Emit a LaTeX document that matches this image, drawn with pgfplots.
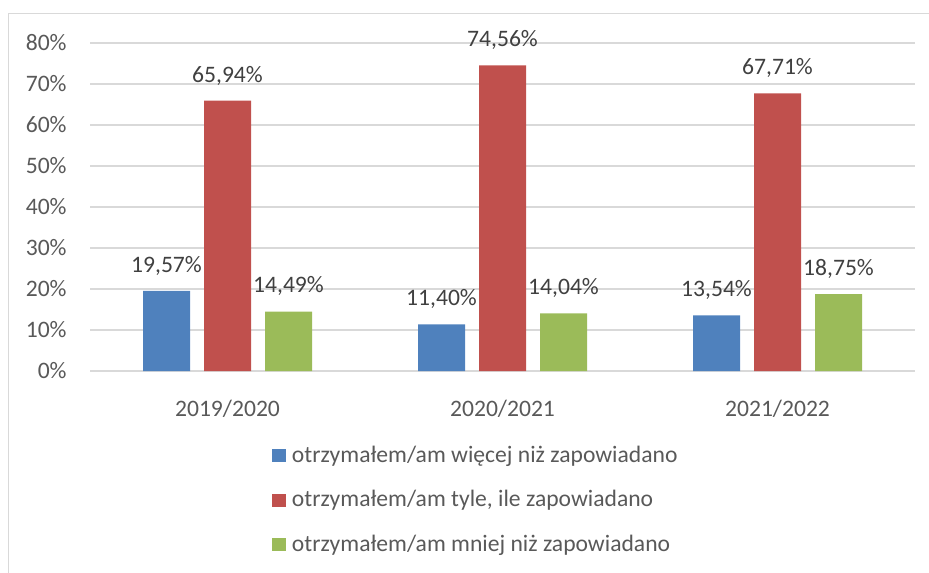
\documentclass[border=0pt]{standalone}
\usepackage{fontspec}
\setmainfont{Carlito}
\usepackage{pgfplots}
\pgfplotsset{compat=1.18}
\definecolor{xlblue}{HTML}{4F81BD}
\definecolor{xlred}{HTML}{C0504D}
\definecolor{xlgreen}{HTML}{9BBB59}
\definecolor{gridgray}{HTML}{D9D9D9}
\definecolor{labgray}{HTML}{595959}
\definecolor{valgray}{HTML}{404040}
\newcommand\cf{\fontsize{11.8pt}{14pt}\selectfont}

\begin{document}
\begin{tikzpicture}
% page = 929 x 572 px at 0.5pt per px
\useasboundingbox (0,0) rectangle (464.5pt,-286pt);
\draw[gridgray, line width=0.8pt] (4.25pt,-300pt) -- (4.25pt,-6.75pt) -- (480pt,-6.75pt);
\begin{axis}[
  at={(45pt,-185.5pt)}, anchor=south west,
  scale only axis, width=412.5pt, height=164pt,
  ybar=7pt, bar width=23.5pt,
  xmin=-0.5, xmax=2.5, ymin=0, ymax=80,
  clip=false,
  /pgf/number format/assume math mode=true,
  xtick={0,1,2}, xticklabels={2019/2020,2020/2021,2021/2022},
  ytick={0,10,...,80},
  yticklabels={0\%,10\%,20\%,30\%,40\%,50\%,60\%,70\%,80\%},
  axis x line*=bottom, axis y line*=left,
  x axis line style={gridgray, line width=0.9pt, -},
  y axis line style={draw=none},
  tick style={draw=none},
  ymajorgrids, grid style={gridgray, line width=0.9pt},
  every tick label/.append style={font=\cf, text=labgray},
  yticklabel style={anchor=east, inner sep=0pt, xshift=-11.5pt},
  xticklabel style={anchor=base, inner sep=0pt, yshift=-18.5pt},
  point meta=y,
  nodes near coords={\pgfmathprintnumber[fixed,fixed zerofill,precision=2,use comma]{\pgfplotspointmeta}\%},
  nodes near coords style={anchor=base, inner sep=0pt, yshift=9.3pt, font=\cf, text=valgray},
  legend image code/.code={\fill[#1] (0pt,0pt) rectangle (7pt,6.5pt); \path (10pt,0pt);},
  legend cell align=left,
  legend style={at={(axis description cs:0.2206,-0.2287)}, anchor=north west,
    draw=none, fill=none, inner sep=0pt, outer sep=0pt, row sep=11.75pt,
    font=\cf, text=labgray, cells={anchor=base west},
    nodes={inner sep=0pt, text height=8pt, text depth=2.5pt}},
]
\addplot[fill=xlblue, draw=none] coordinates {(0,19.57) (1,11.40) (2,13.54)};
\addplot[fill=xlred, draw=none] coordinates {(0,65.94) (1,74.56) (2,67.71)};
\addplot[fill=xlgreen, draw=none] coordinates {(0,14.49) (1,14.04) (2,18.75)};
\legend{otrzymałem/am więcej niż zapowiadano,otrzymałem/am tyle{,} ile zapowiadano,otrzymałem/am mniej niż zapowiadano}
\end{axis}
\end{tikzpicture}
\end{document}
